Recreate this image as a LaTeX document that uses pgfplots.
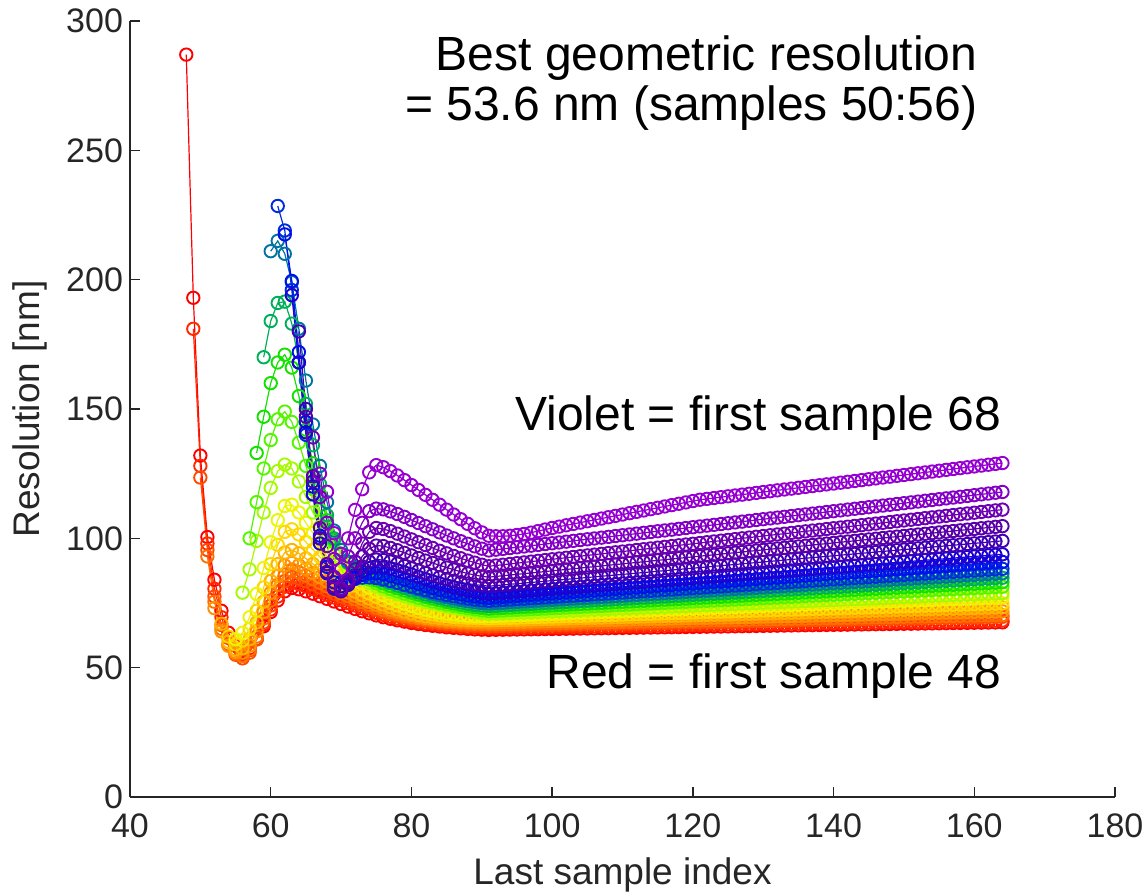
\documentclass[border=0pt]{standalone}
\usepackage{fontspec}
\setmainfont{Liberation Sans}
\usepackage{pgfplots}
\usepackage{pgfplotstable}
\pgfplotsset{compat=1.18}
\usetikzlibrary{calc}
\definecolor{axisgray}{RGB}{38,38,38}
\definecolor{c0}{RGB}{255,0,0}
\definecolor{c1}{RGB}{255,40,0}
\definecolor{c2}{RGB}{255,75,0}
\definecolor{c3}{RGB}{255,110,0}
\definecolor{c4}{RGB}{255,145,0}
\definecolor{c5}{RGB}{255,180,0}
\definecolor{c6}{RGB}{255,215,0}
\definecolor{c7}{RGB}{235,245,0}
\definecolor{c8}{RGB}{165,250,0}
\definecolor{c9}{RGB}{85,245,0}
\definecolor{c10}{RGB}{20,225,0}
\definecolor{c11}{RGB}{0,175,90}
\definecolor{c12}{RGB}{0,115,160}
\definecolor{c13}{RGB}{0,45,220}
\definecolor{c14}{RGB}{0,15,235}
\definecolor{c15}{RGB}{30,0,210}
\definecolor{c16}{RGB}{65,0,180}
\definecolor{c17}{RGB}{90,0,170}
\definecolor{c18}{RGB}{110,0,180}
\definecolor{c19}{RGB}{132,0,198}
\definecolor{c20}{RGB}{150,0,210}
\pgfplotstableread{
x a0 a1 a2 a3 a4 a5 a6 a7 a8 a9 a10 a11 a12 a13 a14 a15 a16 a17 a18 a19 a20
48 287 nan nan nan nan nan nan nan nan nan nan nan nan nan nan nan nan nan nan nan nan
49 193 181 nan nan nan nan nan nan nan nan nan nan nan nan nan nan nan nan nan nan nan
50 132 128 123.5 nan nan nan nan nan nan nan nan nan nan nan nan nan nan nan nan nan nan
51 100.5 98 95.5 93 nan nan nan nan nan nan nan nan nan nan nan nan nan nan nan nan nan
52 84 80.5 77.5 75.5 73 nan nan nan nan nan nan nan nan nan nan nan nan nan nan nan nan
53 72 69.5 66.5 65 64 67 nan nan nan nan nan nan nan nan nan nan nan nan nan nan nan
54 63.5 61.5 59 58.5 58.5 60 62 nan nan nan nan nan nan nan nan nan nan nan nan nan nan
55 58.5 57 55 55.5 56 57 59 61 nan nan nan nan nan nan nan nan nan nan nan nan nan
56 56.5 55.3 53.6 54.5 55.8 57.5 60.5 63.5 79 nan nan nan nan nan nan nan nan nan nan nan nan
57 57.5 56.8 55.8 57 58.5 61 65 69.5 88 100 nan nan nan nan nan nan nan nan nan nan nan
58 61 61 61 62 64 67.5 72 78.5 99 114 133 nan nan nan nan nan nan nan nan nan nan
59 66 66.8 67.5 69 71.5 75.5 81 88.5 110 127 147 170 nan nan nan nan nan nan nan nan nan
60 71.5 72.5 74 76 79 83.5 90 98.5 119.5 138 160 184 211 nan nan nan nan nan nan nan nan
61 76 77.5 79.5 82 85.5 90 97.5 107 126 146 168 191 215 228.5 nan nan nan nan nan nan nan
62 79.5 81.3 83.5 86 89.5 94.5 102.5 112.5 128.5 149 171 191.5 210 219 217.5 nan nan nan nan nan nan
63 80.8 82.8 85 87.5 90.5 95.5 103.5 113 127 145 166 183 199 196 199.5 194 nan nan nan nan nan
64 80.3 82.3 84.4 86.8 89.6 94.2 101.5 110 122 137 155 168 181 168 172 168 180 nan nan nan nan
65 79.5 81.4 83.4 85.6 88.2 92.2 98.6 106 116 128 142 152 161 140 145 141 150 147 nan nan nan
66 78.6 80.4 82.2 84.2 86.6 90.1 95.6 102 110 119 129 136 144 117 120 117 122 124 139 nan nan
67 77.6 79.3 81 82.8 85 88 92.8 98.2 104.5 111 117 121 128 100 101 98 100 104 116 125 nan
68 76.6 78.2 79.8 81.4 83.4 86 90.2 94.8 99.5 104.2 107 109 114 90 89 86.5 87 90 97 106 118
69 75.6 77.1 78.6 80.1 81.9 84.2 87.8 91.7 95 98.5 99.5 100 103 85 83 81 80.5 81.5 85 92 102
70 74.6 76.1 77.5 78.8 80.5 82.5 85.6 89 91.3 94 94 94 95.5 83 81.5 80.5 79.5 80 80.5 88 94
71 73.6 75 76.4 77.6 79.1 80.9 83.6 86.6 88.3 90.5 90.5 90.5 91 83.5 82.8 82.3 82 83 84 93 100
72 72.7 74 75.3 76.4 77.8 79.4 81.8 84.5 86 87.8 88.1 88.5 88.6 84.3 84.6 85 85.8 88 91 100 111
73 71.8 73 74.3 75.3 76.6 78 80.2 82.6 84.2 85.7 86.3 87 87.2 84.8 85.9 87.2 89 93 98 106 119
74 71 72.1 73.3 74.2 75.4 76.7 78.7 80.9 82.7 84 84.9 85.8 86.2 84.9 86.5 88.5 91 96 102.5 110.5 125.5
75 70.2 71.2 72.4 73.2 74.3 75.5 77.4 79.4 81.4 82.6 83.7 84.7 85.3 84.6 86.5 89 91.8 97.2 104 111.5 128.3
76 69.5 70.4 71.5 72.3 73.3 74.4 76.2 78.1 80.3 81.4 82.6 83.7 84.5 84.1 86.1 88.8 91.6 97 103.6 111.2 127.5
77 68.9 69.7 70.7 71.5 72.4 73.4 75.1 76.9 79.3 80.4 81.6 82.7 83.6 83.5 85.5 88.3 91 96.3 102.8 110.4 126
78 68.3 69 70 70.8 71.6 72.5 74.1 75.8 78.4 79.5 80.7 81.7 82.7 82.8 84.8 87.6 90.2 95.4 101.8 109.4 124.3
79 67.8 68.5 69.4 70.1 70.9 71.7 73.2 74.8 77.6 78.6 79.8 80.8 81.8 82.1 84 86.8 89.3 94.4 100.7 108.3 122.5
80 67.3 68 68.8 69.5 70.3 71 72.4 73.9 76.8 77.8 79 79.9 81 81.4 83.2 86 88.4 93.4 99.6 107.1 120.6
81 66.9 67.5 68.3 69 69.7 70.4 71.7 73.1 76.1 77 78.2 79.1 80.2 80.7 82.4 85.1 87.5 92.4 98.5 105.9 118.7
82 66.5 67.1 67.9 68.6 69.2 69.9 71.1 72.4 75.4 76.3 77.4 78.3 79.4 80 81.6 84.2 86.6 91.4 97.4 104.7 116.8
83 66.2 66.8 67.5 68.2 68.8 69.5 70.6 71.8 74.8 75.6 76.7 77.6 78.6 79.3 80.8 83.3 85.8 90.5 96.3 103.5 114.9
84 65.9 66.5 67.2 67.9 68.5 69.2 70.2 71.3 74.2 75 76 76.9 77.9 78.7 80.1 82.5 85 89.6 95.2 102.3 113
85 65.6 66.2 66.9 67.6 68.2 68.9 69.9 70.9 73.6 74.4 75.4 76.3 77.3 78.1 79.5 81.7 84.3 88.7 94.2 101.1 111.1
86 65.4 66 66.7 67.4 68 68.7 69.6 70.6 73.1 73.9 74.8 75.7 76.7 77.6 78.9 81 83.6 87.9 93.2 100 109.2
87 65.2 65.8 66.5 67.2 67.8 68.5 69.4 70.3 72.6 73.4 74.3 75.2 76.2 77.1 78.4 80.4 83 87.1 92.3 98.9 107.4
88 65 65.6 66.3 67 67.7 68.4 69.3 70.1 72.1 72.9 73.8 74.7 75.7 76.7 77.9 79.8 82.5 86.4 91.4 97.9 105.6
89 64.8 65.5 66.2 66.9 67.6 68.3 69.2 70 71.6 72.5 73.4 74.3 75.3 76.3 77.5 79.3 82.1 85.8 90.6 96.9 103.9
90 64.7 65.4 66.1 66.8 67.5 68.2 69.1 69.9 71.2 72.1 73.1 74 75 76 77.2 78.9 81.8 85.3 89.8 96 102.3
91 64.6 65.3 66 66.7 67.4 68.2 69 69.9 70.8 71.8 72.8 73.8 74.8 75.8 77 78.5 81.5 85 89.2 95.3 101
92 64.64 65.34 66.05 66.75 67.46 68.27 69.08 70.00 70.91 71.93 72.94 73.95 74.96 75.97 77.19 78.71 81.74 85.27 89.50 95.61 100.8
93 64.68 65.38 66.10 66.80 67.52 68.34 69.16 70.10 71.02 72.06 73.08 74.10 75.12 76.14 77.38 78.92 81.98 85.54 89.80 95.92 100.8
94 64.72 65.42 66.15 66.85 67.58 68.41 69.24 70.20 71.13 72.19 73.22 74.25 75.28 76.31 77.57 79.13 82.22 85.81 90.10 96.23 101.0
95 64.76 65.46 66.20 66.90 67.64 68.48 69.32 70.30 71.24 72.32 73.36 74.40 75.44 76.48 77.76 79.34 82.46 86.08 90.40 96.54 101.3
96 64.80 65.50 66.25 66.95 67.70 68.55 69.40 70.40 71.35 72.45 73.50 74.55 75.60 76.65 77.95 79.55 82.70 86.35 90.70 96.85 101.7
97 64.84 65.54 66.30 67.00 67.76 68.62 69.48 70.50 71.46 72.58 73.64 74.70 75.76 76.82 78.14 79.76 82.94 86.62 91.00 97.16 102.2
98 64.88 65.58 66.35 67.05 67.82 68.69 69.56 70.60 71.57 72.71 73.78 74.85 75.92 76.99 78.33 79.97 83.18 86.89 91.30 97.47 102.8
99 64.92 65.62 66.40 67.10 67.88 68.76 69.64 70.70 71.68 72.84 73.92 75.00 76.08 77.16 78.52 80.18 83.42 87.16 91.60 97.78 103.4
100 64.96 65.66 66.45 67.15 67.94 68.83 69.72 70.80 71.79 72.97 74.06 75.15 76.24 77.33 78.71 80.39 83.66 87.43 91.90 98.09 104.0
101 65.00 65.70 66.50 67.20 68.00 68.90 69.80 70.90 71.90 73.10 74.20 75.30 76.40 77.50 78.90 80.60 83.90 87.70 92.20 98.40 104.52
102 65.04 65.74 66.55 67.25 68.06 68.97 69.88 71.00 72.01 73.23 74.34 75.45 76.56 77.67 79.09 80.81 84.14 87.97 92.50 98.71 105.04
103 65.08 65.78 66.60 67.30 68.12 69.04 69.96 71.10 72.12 73.36 74.48 75.60 76.72 77.84 79.28 81.02 84.38 88.24 92.80 99.02 105.56
104 65.12 65.82 66.65 67.35 68.18 69.11 70.04 71.20 72.23 73.49 74.62 75.75 76.88 78.01 79.47 81.23 84.62 88.51 93.10 99.33 106.08
105 65.16 65.86 66.70 67.40 68.24 69.18 70.12 71.30 72.34 73.62 74.76 75.90 77.04 78.18 79.66 81.44 84.86 88.78 93.40 99.64 106.60
106 65.20 65.90 66.75 67.45 68.30 69.25 70.20 71.40 72.45 73.75 74.90 76.05 77.20 78.35 79.85 81.65 85.10 89.05 93.70 99.95 107.12
107 65.24 65.94 66.80 67.50 68.36 69.32 70.28 71.50 72.56 73.88 75.04 76.20 77.36 78.52 80.04 81.86 85.34 89.32 94.00 100.26 107.64
108 65.28 65.98 66.85 67.55 68.42 69.39 70.36 71.60 72.67 74.01 75.18 76.35 77.52 78.69 80.23 82.07 85.58 89.59 94.30 100.57 108.16
109 65.32 66.02 66.90 67.60 68.48 69.46 70.44 71.70 72.78 74.14 75.32 76.50 77.68 78.86 80.42 82.28 85.82 89.86 94.60 100.88 108.68
110 65.36 66.06 66.95 67.65 68.54 69.53 70.52 71.80 72.89 74.27 75.46 76.65 77.84 79.03 80.61 82.49 86.06 90.13 94.90 101.19 109.20
111 65.40 66.10 67.00 67.70 68.60 69.60 70.60 71.90 73.00 74.40 75.60 76.80 78.00 79.20 80.80 82.70 86.30 90.40 95.20 101.50 109.72
112 65.44 66.14 67.05 67.75 68.66 69.67 70.68 72.00 73.11 74.53 75.74 76.95 78.16 79.37 80.99 82.91 86.54 90.67 95.50 101.81 110.24
113 65.48 66.18 67.10 67.80 68.72 69.74 70.76 72.10 73.22 74.66 75.88 77.10 78.32 79.54 81.18 83.12 86.78 90.94 95.80 102.12 110.76
114 65.52 66.22 67.15 67.85 68.78 69.81 70.84 72.20 73.33 74.79 76.02 77.25 78.48 79.71 81.37 83.33 87.02 91.21 96.10 102.43 111.28
115 65.56 66.26 67.20 67.90 68.84 69.88 70.92 72.30 73.44 74.92 76.16 77.40 78.64 79.88 81.56 83.54 87.26 91.48 96.40 102.74 111.80
116 65.60 66.30 67.25 67.95 68.90 69.95 71.00 72.40 73.55 75.05 76.30 77.55 78.80 80.05 81.75 83.75 87.50 91.75 96.70 103.05 112.32
117 65.64 66.34 67.30 68.00 68.96 70.02 71.08 72.50 73.66 75.18 76.44 77.70 78.96 80.22 81.94 83.96 87.74 92.02 97.00 103.36 112.84
118 65.68 66.38 67.35 68.05 69.02 70.09 71.16 72.60 73.77 75.31 76.58 77.85 79.12 80.39 82.13 84.17 87.98 92.29 97.30 103.67 113.36
119 65.72 66.42 67.40 68.10 69.08 70.16 71.24 72.70 73.88 75.44 76.72 78.00 79.28 80.56 82.32 84.38 88.22 92.56 97.60 103.98 113.88
120 65.76 66.46 67.45 68.15 69.14 70.23 71.32 72.80 73.99 75.57 76.86 78.15 79.44 80.73 82.51 84.59 88.46 92.83 97.90 104.29 114.40
121 65.80 66.50 67.50 68.20 69.20 70.30 71.40 72.90 74.10 75.70 77.00 78.30 79.60 80.90 82.70 84.80 88.70 93.10 98.20 104.60 114.92
122 65.84 66.54 67.55 68.25 69.26 70.37 71.48 73.00 74.21 75.83 77.14 78.45 79.76 81.07 82.89 85.01 88.94 93.37 98.50 104.91 115.25
123 65.88 66.58 67.60 68.30 69.32 70.44 71.56 73.10 74.32 75.96 77.28 78.60 79.92 81.24 83.08 85.22 89.18 93.64 98.80 105.22 115.58
124 65.92 66.62 67.65 68.35 69.38 70.51 71.64 73.20 74.43 76.09 77.42 78.75 80.08 81.41 83.27 85.43 89.42 93.91 99.10 105.53 115.91
125 65.96 66.66 67.70 68.40 69.44 70.58 71.72 73.30 74.54 76.22 77.56 78.90 80.24 81.58 83.46 85.64 89.66 94.18 99.40 105.84 116.24
126 66.00 66.70 67.75 68.45 69.50 70.65 71.80 73.40 74.65 76.35 77.70 79.05 80.40 81.75 83.65 85.85 89.90 94.45 99.70 106.15 116.57
127 66.04 66.74 67.80 68.50 69.56 70.72 71.88 73.50 74.76 76.48 77.84 79.20 80.56 81.92 83.84 86.06 90.14 94.72 100.00 106.46 116.90
128 66.08 66.78 67.85 68.55 69.62 70.79 71.96 73.60 74.87 76.61 77.98 79.35 80.72 82.09 84.03 86.27 90.38 94.99 100.30 106.77 117.23
129 66.12 66.82 67.90 68.60 69.68 70.86 72.04 73.70 74.98 76.74 78.12 79.50 80.88 82.26 84.22 86.48 90.62 95.26 100.60 107.08 117.56
130 66.16 66.86 67.95 68.65 69.74 70.93 72.12 73.80 75.09 76.87 78.26 79.65 81.04 82.43 84.41 86.69 90.86 95.53 100.90 107.39 117.89
131 66.20 66.90 68.00 68.70 69.80 71.00 72.20 73.90 75.20 77.00 78.40 79.80 81.20 82.60 84.60 86.90 91.10 95.80 101.20 107.70 118.22
132 66.24 66.94 68.05 68.75 69.86 71.07 72.28 74.00 75.31 77.13 78.54 79.95 81.36 82.77 84.79 87.11 91.34 96.07 101.50 108.01 118.55
133 66.28 66.98 68.10 68.80 69.92 71.14 72.36 74.10 75.42 77.26 78.68 80.10 81.52 82.94 84.98 87.32 91.58 96.34 101.80 108.32 118.88
134 66.32 67.02 68.15 68.85 69.98 71.21 72.44 74.20 75.53 77.39 78.82 80.25 81.68 83.11 85.17 87.53 91.82 96.61 102.10 108.63 119.21
135 66.36 67.06 68.20 68.90 70.04 71.28 72.52 74.30 75.64 77.52 78.96 80.40 81.84 83.28 85.36 87.74 92.06 96.88 102.40 108.94 119.54
136 66.40 67.10 68.25 68.95 70.10 71.35 72.60 74.40 75.75 77.65 79.10 80.55 82.00 83.45 85.55 87.95 92.30 97.15 102.70 109.25 119.87
137 66.44 67.14 68.30 69.00 70.16 71.42 72.68 74.50 75.86 77.78 79.24 80.70 82.16 83.62 85.74 88.16 92.54 97.42 103.00 109.56 120.20
138 66.48 67.18 68.35 69.05 70.22 71.49 72.76 74.60 75.97 77.91 79.38 80.85 82.32 83.79 85.93 88.37 92.78 97.69 103.30 109.87 120.53
139 66.52 67.22 68.40 69.10 70.28 71.56 72.84 74.70 76.08 78.04 79.52 81.00 82.48 83.96 86.12 88.58 93.02 97.96 103.60 110.18 120.86
140 66.56 67.26 68.45 69.15 70.34 71.63 72.92 74.80 76.19 78.17 79.66 81.15 82.64 84.13 86.31 88.79 93.26 98.23 103.90 110.49 121.19
141 66.60 67.30 68.50 69.20 70.40 71.70 73.00 74.90 76.30 78.30 79.80 81.30 82.80 84.30 86.50 89.00 93.50 98.50 104.20 110.80 121.52
142 66.64 67.34 68.55 69.25 70.46 71.77 73.08 75.00 76.41 78.43 79.94 81.45 82.96 84.47 86.69 89.21 93.74 98.77 104.50 111.11 121.85
143 66.68 67.38 68.60 69.30 70.52 71.84 73.16 75.10 76.52 78.56 80.08 81.60 83.12 84.64 86.88 89.42 93.98 99.04 104.80 111.42 122.18
144 66.72 67.42 68.65 69.35 70.58 71.91 73.24 75.20 76.63 78.69 80.22 81.75 83.28 84.81 87.07 89.63 94.22 99.31 105.10 111.73 122.51
145 66.76 67.46 68.70 69.40 70.64 71.98 73.32 75.30 76.74 78.82 80.36 81.90 83.44 84.98 87.26 89.84 94.46 99.58 105.40 112.04 122.84
146 66.80 67.50 68.75 69.45 70.70 72.05 73.40 75.40 76.85 78.95 80.50 82.05 83.60 85.15 87.45 90.05 94.70 99.85 105.70 112.35 123.17
147 66.84 67.54 68.80 69.50 70.76 72.12 73.48 75.50 76.96 79.08 80.64 82.20 83.76 85.32 87.64 90.26 94.94 100.12 106.00 112.66 123.50
148 66.88 67.58 68.85 69.55 70.82 72.19 73.56 75.60 77.07 79.21 80.78 82.35 83.92 85.49 87.83 90.47 95.18 100.39 106.30 112.97 123.83
149 66.92 67.62 68.90 69.60 70.88 72.26 73.64 75.70 77.18 79.34 80.92 82.50 84.08 85.66 88.02 90.68 95.42 100.66 106.60 113.28 124.16
150 66.96 67.66 68.95 69.65 70.94 72.33 73.72 75.80 77.29 79.47 81.06 82.65 84.24 85.83 88.21 90.89 95.66 100.93 106.90 113.59 124.49
151 67.00 67.70 69.00 69.70 71.00 72.40 73.80 75.90 77.40 79.60 81.20 82.80 84.40 86.00 88.40 91.10 95.90 101.20 107.20 113.90 124.82
152 67.04 67.74 69.05 69.75 71.06 72.47 73.88 76.00 77.51 79.73 81.34 82.95 84.56 86.17 88.59 91.31 96.14 101.47 107.50 114.21 125.15
153 67.08 67.78 69.10 69.80 71.12 72.54 73.96 76.10 77.62 79.86 81.48 83.10 84.72 86.34 88.78 91.52 96.38 101.74 107.80 114.52 125.48
154 67.12 67.82 69.15 69.85 71.18 72.61 74.04 76.20 77.73 79.99 81.62 83.25 84.88 86.51 88.97 91.73 96.62 102.01 108.10 114.83 125.81
155 67.16 67.86 69.20 69.90 71.24 72.68 74.12 76.30 77.84 80.12 81.76 83.40 85.04 86.68 89.16 91.94 96.86 102.28 108.40 115.14 126.14
156 67.20 67.90 69.25 69.95 71.30 72.75 74.20 76.40 77.95 80.25 81.90 83.55 85.20 86.85 89.35 92.15 97.10 102.55 108.70 115.45 126.47
157 67.24 67.94 69.30 70.00 71.36 72.82 74.28 76.50 78.06 80.38 82.04 83.70 85.36 87.02 89.54 92.36 97.34 102.82 109.00 115.76 126.80
158 67.28 67.98 69.35 70.05 71.42 72.89 74.36 76.60 78.17 80.51 82.18 83.85 85.52 87.19 89.73 92.57 97.58 103.09 109.30 116.07 127.13
159 67.32 68.02 69.40 70.10 71.48 72.96 74.44 76.70 78.28 80.64 82.32 84.00 85.68 87.36 89.92 92.78 97.82 103.36 109.60 116.38 127.46
160 67.36 68.06 69.45 70.15 71.54 73.03 74.52 76.80 78.39 80.77 82.46 84.15 85.84 87.53 90.11 92.99 98.06 103.63 109.90 116.69 127.79
161 67.40 68.10 69.50 70.20 71.60 73.10 74.60 76.90 78.50 80.90 82.60 84.30 86.00 87.70 90.30 93.20 98.30 103.90 110.20 117.00 128.12
162 67.44 68.14 69.55 70.25 71.66 73.17 74.68 77.00 78.61 81.03 82.74 84.45 86.16 87.87 90.49 93.41 98.54 104.17 110.50 117.31 128.45
163 67.48 68.18 69.60 70.30 71.72 73.24 74.76 77.10 78.72 81.16 82.88 84.60 86.32 88.04 90.68 93.62 98.78 104.44 110.80 117.62 128.78
164 67.52 68.22 69.65 70.35 71.78 73.31 74.84 77.20 78.83 81.29 83.02 84.75 86.48 88.21 90.87 93.83 99.02 104.71 111.10 117.93 129.11
}\datatable
\begin{document}
\begin{tikzpicture}
\begin{axis}[
  scale only axis, width=492.5pt, height=388pt,
  xmin=40, xmax=180, ymin=0, ymax=300,
  xtick={40,60,...,180}, ytick={0,50,...,300},
  axis x line*=bottom, axis y line*=left,
  axis line style={draw=axisgray, line width=0.75pt},
  tick style={draw=axisgray, line width=0.75pt},
  tick align=inside, major tick length=5pt,
  /pgf/number format/assume math mode=true,
  ticklabel style={font=\fontsize{17}{19}\selectfont, text=axisgray},
  xticklabel style={yshift=-5pt},
  xlabel={Last sample index}, ylabel={Resolution [nm]},
  label style={font=\fontsize{18.5}{20}\selectfont, text=axisgray},
  xlabel style={at={(axis description cs:0.5,-0.1005)}, anchor=center},
  ylabel style={at={(axis description cs:-0.1015,0.5)}, anchor=center},
  unbounded coords=discard,
]
\pgfplotsinvokeforeach{0,...,20}{
  \addplot[color=c#1, line width=0.6pt, mark=o, mark size=3.1pt, mark options={solid, line width=0.95pt}] table[x=x, y=a#1] {\datatable};
}
\node[anchor=base east, inner sep=0pt, font=\fontsize{24}{28}\selectfont] at (axis cs:160.5,281) {Best geometric resolution};
\node[anchor=base east, inner sep=0pt, font=\fontsize{24}{28}\selectfont] at (axis cs:160.5,261.7) {= 53.6 nm (samples 50:56)};
\node[anchor=base east, inner sep=0pt, font=\fontsize{24}{28}\selectfont] at (axis cs:163.9,141.5) {Violet = first sample 68};
\node[anchor=base east, inner sep=0pt, font=\fontsize{24}{28}\selectfont] at (axis cs:163.9,42.1) {Red = first sample 48};
\end{axis}
\pgfresetboundingbox
\path ($(current axis.south west)+(-65pt,-48.5pt)$) rectangle ($(current axis.north east)+(16pt,10.5pt)$);
\end{tikzpicture}
\end{document}
